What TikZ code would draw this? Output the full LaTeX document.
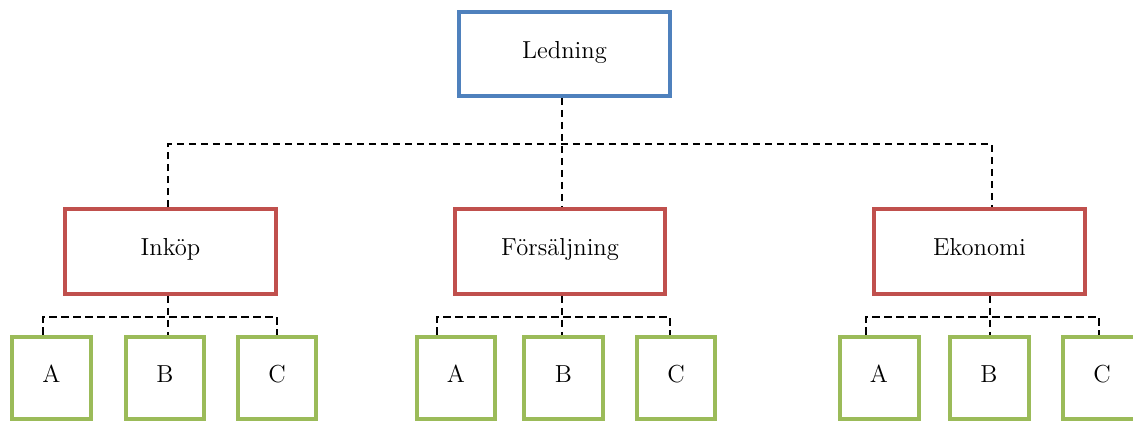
\documentclass[tikz,border=0pt]{standalone}
\usepackage{xcolor}
\usepackage{tikz}
\usetikzlibrary{positioning}
\definecolor{ledblue}{RGB}{79,129,189}
\definecolor{avdred}{RGB}{192,80,77}
\definecolor{grpgreen}{RGB}{155,187,89}
\tikzstyle{ledbox} = [rectangle, minimum width=4.22cm, minimum height=1.68cm, text centered, text height=1.6ex, text depth=0.5ex, draw=ledblue, line width=0.08cm, fill=white]
\tikzstyle{avdbox} = [rectangle, minimum width=4.22cm, minimum height=1.7cm, text centered, text height=1.6ex, text depth=0.5ex, draw=avdred, line width=0.08cm, fill=white]
\tikzstyle{grpbox} = [rectangle, minimum width=1.58cm, minimum height=1.66cm, text centered, text height=1.6ex, text depth=0.5ex, draw=grpgreen, line width=0.08cm, fill=white]
\tikzstyle{dashline} = [line width=0.03cm, dash pattern=on 0.15cm off 0.09cm]

\begin{document}
\begin{tikzpicture}[x=0.02cm, y=-0.02cm, font=\fontsize{14}{16}\selectfont]
\useasboundingbox (0,0) rectangle (1133,421);

\node (ledning) [ledbox] at (564.5,54) {Ledning};

\node (inkop) [avdbox] at (170.5,251.5) {Inköp};
\node (forsaljning) [avdbox] at (560,251.5) {Försäljning};
\node (ekonomi) [avdbox] at (979.5,251.5) {Ekonomi};

\node (inka) [grpbox] at (51.5,378) {A};
\node (inkb) [grpbox] at (165,378) {B};
\node (inkc) [grpbox] at (277,378) {C};
\node (fsa) [grpbox] at (456,378) {A};
\node (fsb) [grpbox] at (563.5,378) {B};
\node (fsc) [grpbox] at (676,378) {C};
\node (eka) [grpbox] at (879,378) {A};
\node (ekb) [grpbox] at (989,378) {B};
\node (ekc) [grpbox] at (1102,378) {C};

% ledning till avdelningar
\coordinate (top) at (562,144);
\coordinate (topl) at (168,144);
\coordinate (topr) at (992,144);
\draw [dashline] (ledning.south -| top) -- (top) -- (forsaljning.north -| top);
\draw [dashline] (inkop.north -| topl) -- (topl) -- (topr) -- (ekonomi.north -| topr);

% inköp
\coordinate (ink) at (168,317);
\coordinate (inkl) at (43,317);
\coordinate (inkr) at (277,317);
\draw [dashline] (inkop.south -| ink) -- (inkb.north -| ink);
\draw [dashline] (inka.north -| inkl) -- (inkl) -- (inkr) -- (inkc.north -| inkr);

% försäljning
\coordinate (fs) at (562,317);
\coordinate (fsl) at (437,317);
\coordinate (fsr) at (670,317);
\draw [dashline] (forsaljning.south -| fs) -- (fsb.north -| fs);
\draw [dashline] (fsa.north -| fsl) -- (fsl) -- (fsr) -- (fsc.north -| fsr);

% ekonomi
\coordinate (ek) at (990,317);
\coordinate (ekl) at (866,317);
\coordinate (ekr) at (1099,317);
\draw [dashline] (ekonomi.south -| ek) -- (ekb.north -| ek);
\draw [dashline] (eka.north -| ekl) -- (ekl) -- (ekr) -- (ekc.north -| ekr);

\end{tikzpicture}
\end{document}
